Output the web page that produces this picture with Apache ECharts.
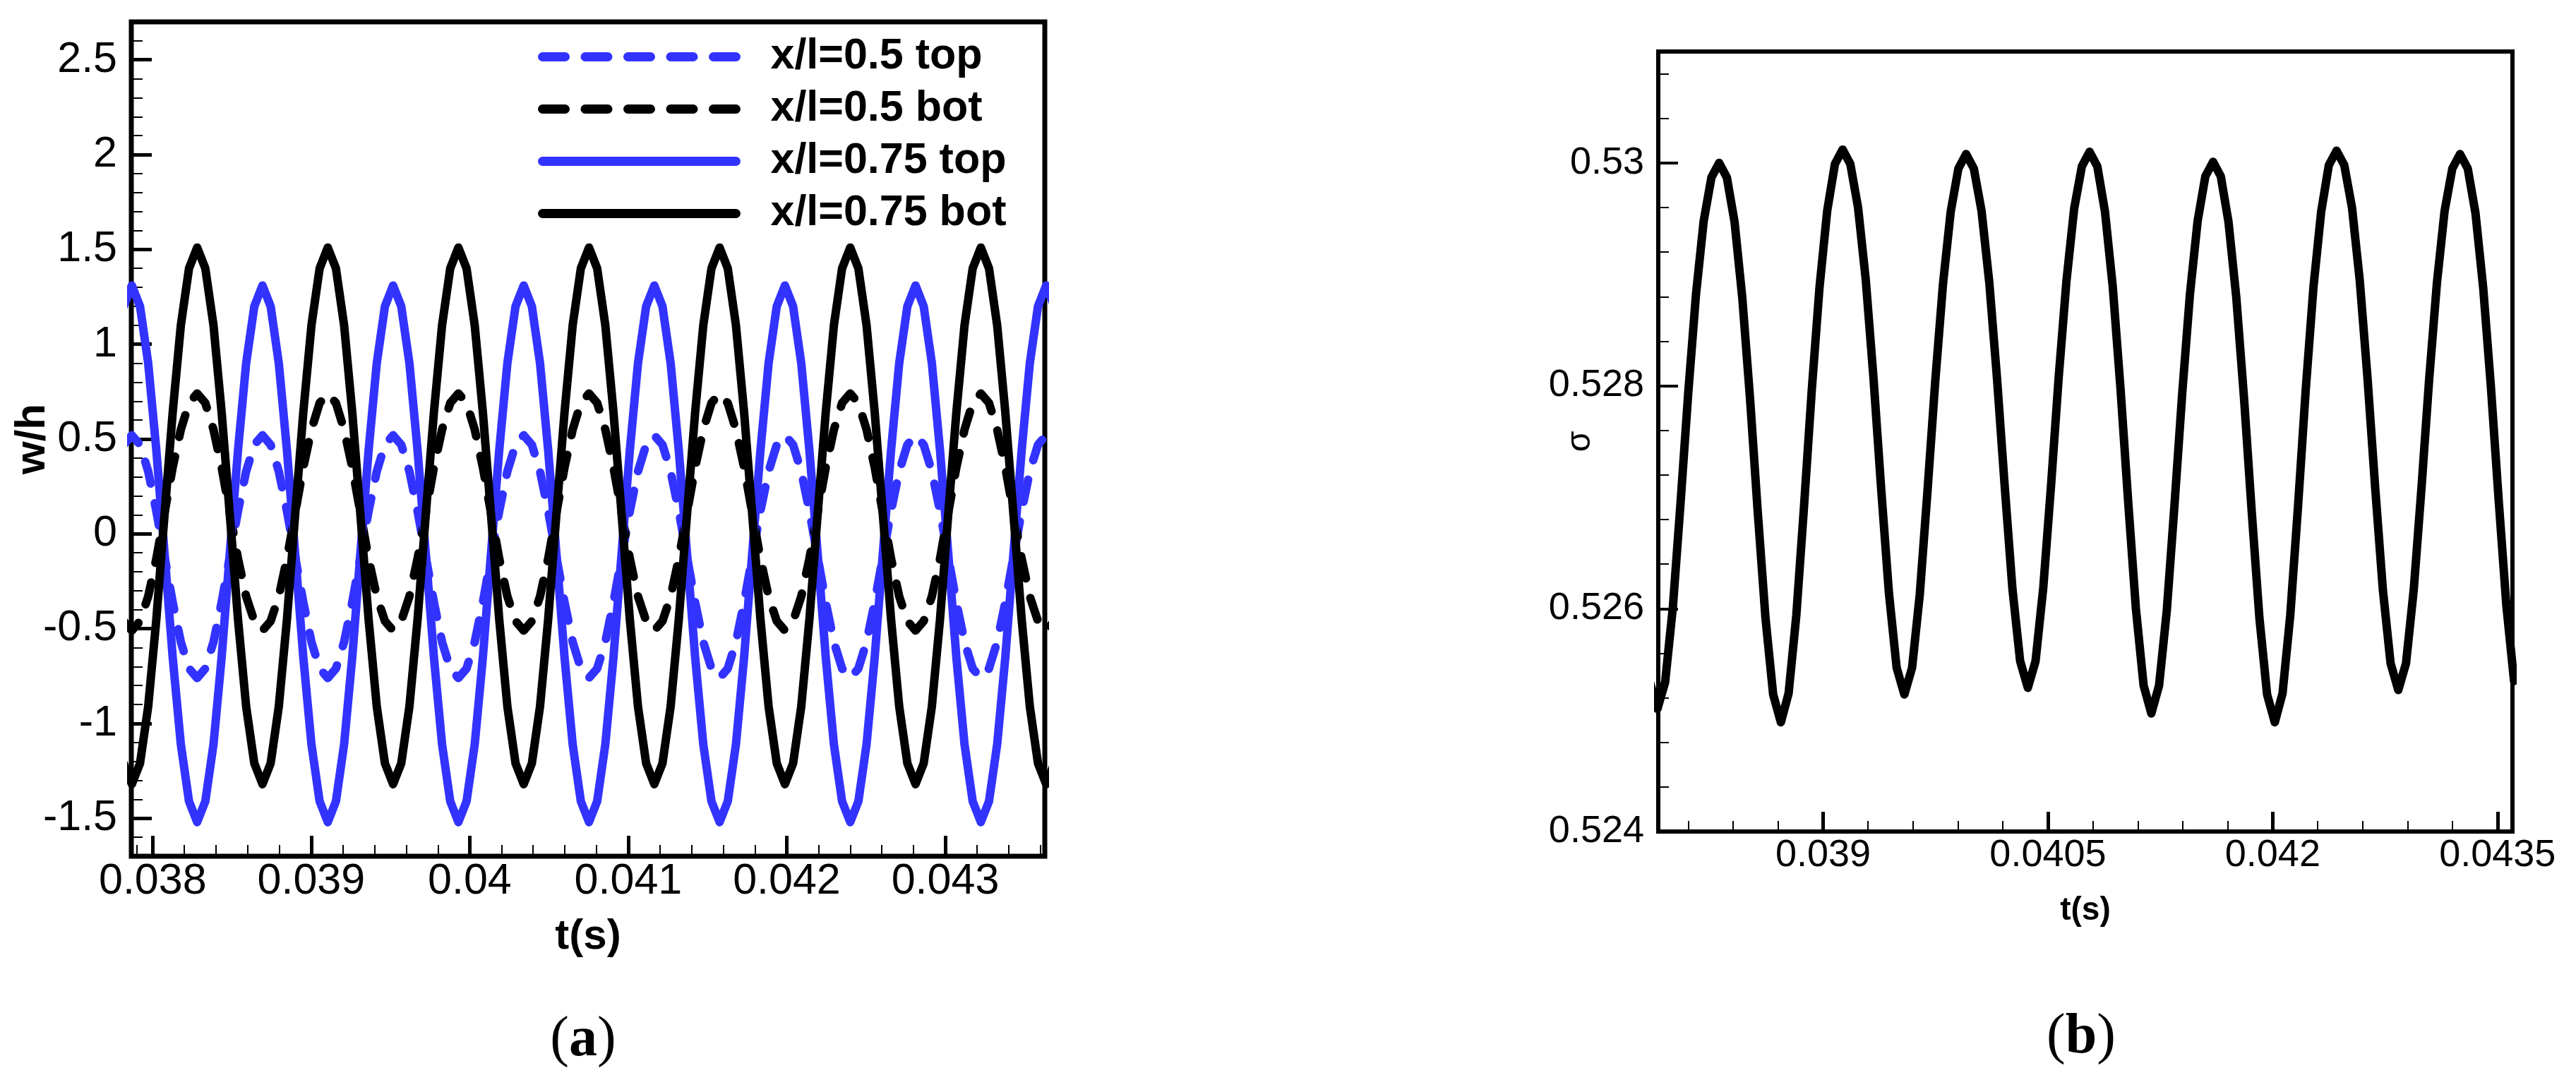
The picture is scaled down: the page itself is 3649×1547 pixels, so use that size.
<!DOCTYPE html>
<html>
<head>
<meta charset="utf-8">
<script src="https://cdn.jsdelivr.net/npm/echarts@6/dist/echarts.min.js"></script>
<style>
html,body{margin:0;padding:0;background:#fff;}
#c{width:3649px;height:1547px;}
</style>
</head>
<body>
<div id="c"></div>
<script>
// ---------------- Panel (a): w/h vs t ----------------
const timeA = [
0.0378170, 0.0378685, 0.0379200, 0.0379715, 0.0380230, 0.0380745, 0.0381260, 0.0381775, 0.0382290, 0.0382805,
0.0383320, 0.0383835, 0.0384350, 0.0384865, 0.0385380, 0.0385895, 0.0386410, 0.0386925, 0.0387440, 0.0387955,
0.0388470, 0.0388985, 0.0389500, 0.0390015, 0.0390530, 0.0391045, 0.0391560, 0.0392075, 0.0392590, 0.0393105,
0.0393620, 0.0394135, 0.0394650, 0.0395165, 0.0395680, 0.0396195, 0.0396710, 0.0397225, 0.0397740, 0.0398255,
0.0398770, 0.0399285, 0.0399800, 0.0400315, 0.0400830, 0.0401345, 0.0401860, 0.0402375, 0.0402890, 0.0403405,
0.0403920, 0.0404435, 0.0404950, 0.0405465, 0.0405980, 0.0406495, 0.0407010, 0.0407525, 0.0408040, 0.0408555,
0.0409070, 0.0409585, 0.0410100, 0.0410615, 0.0411130, 0.0411645, 0.0412160, 0.0412675, 0.0413190, 0.0413705,
0.0414220, 0.0414735, 0.0415250, 0.0415765, 0.0416280, 0.0416795, 0.0417310, 0.0417825, 0.0418340, 0.0418855,
0.0419370, 0.0419885, 0.0420400, 0.0420915, 0.0421430, 0.0421945, 0.0422460, 0.0422975, 0.0423490, 0.0424005,
0.0424520, 0.0425035, 0.0425550, 0.0426065, 0.0426580, 0.0427095, 0.0427610, 0.0428125, 0.0428640, 0.0429155,
0.0429670, 0.0430185, 0.0430700, 0.0431215, 0.0431730, 0.0432245, 0.0432760, 0.0433275, 0.0433790, 0.0434305,
0.0434820, 0.0435335, 0.0435850, 0.0436365, 0.0436880
];

// x/l=0.5 top (blue dashed)
const wTop05 = [
0.47,0.52,0.47,0.33,0.12,-0.12,-0.36,-0.57,-0.71,-0.76,-0.71,-0.57,-0.36,-0.12,0.12,0.33,
0.47,0.52,0.47,0.33,0.12,-0.12,-0.36,-0.57,-0.71,-0.76,-0.71,-0.57,-0.36,-0.12,0.12,0.33,
0.47,0.52,0.47,0.33,0.12,-0.12,-0.36,-0.57,-0.71,-0.76,-0.71,-0.57,-0.36,-0.12,0.12,0.33,
0.47,0.52,0.47,0.33,0.12,-0.12,-0.36,-0.57,-0.71,-0.76,-0.71,-0.57,-0.36,-0.12,0.12,0.33,
0.47,0.52,0.47,0.33,0.12,-0.12,-0.36,-0.57,-0.71,-0.76,-0.71,-0.57,-0.36,-0.12,0.12,0.33,
0.47,0.52,0.47,0.33,0.12,-0.12,-0.36,-0.57,-0.71,-0.76,-0.71,-0.57,-0.36,-0.12,0.12,0.33,
0.47,0.52,0.47,0.33,0.12,-0.12,-0.36,-0.57,-0.71,-0.76,-0.71,-0.57,-0.36,-0.12,0.12,0.33,
0.47,0.52,0.47
];
// x/l=0.5 bot (black dashed)
const wBot05 = [
-0.46,-0.51,-0.46,-0.33,-0.13,0.11,0.35,0.55,0.69,0.74,0.69,0.55,0.35,0.11,-0.13,-0.33,
-0.46,-0.51,-0.46,-0.33,-0.13,0.11,0.35,0.55,0.69,0.74,0.69,0.55,0.35,0.11,-0.13,-0.33,
-0.46,-0.51,-0.46,-0.33,-0.13,0.11,0.35,0.55,0.69,0.74,0.69,0.55,0.35,0.11,-0.13,-0.33,
-0.46,-0.51,-0.46,-0.33,-0.13,0.11,0.35,0.55,0.69,0.74,0.69,0.55,0.35,0.11,-0.13,-0.33,
-0.46,-0.51,-0.46,-0.33,-0.13,0.11,0.35,0.55,0.69,0.74,0.69,0.55,0.35,0.11,-0.13,-0.33,
-0.46,-0.51,-0.46,-0.33,-0.13,0.11,0.35,0.55,0.69,0.74,0.69,0.55,0.35,0.11,-0.13,-0.33,
-0.46,-0.51,-0.46,-0.33,-0.13,0.11,0.35,0.55,0.69,0.74,0.69,0.55,0.35,0.11,-0.13,-0.33,
-0.46,-0.51,-0.46
];
// x/l=0.75 top (blue solid)
const wTop075 = [
1.20,1.31,1.20,0.90,0.44,-0.10,-0.65,-1.11,-1.41,-1.52,-1.41,-1.11,-0.65,-0.10,0.44,0.90,
1.20,1.31,1.20,0.90,0.44,-0.10,-0.65,-1.11,-1.41,-1.52,-1.41,-1.11,-0.65,-0.10,0.44,0.90,
1.20,1.31,1.20,0.90,0.44,-0.10,-0.65,-1.11,-1.41,-1.52,-1.41,-1.11,-0.65,-0.10,0.44,0.90,
1.20,1.31,1.20,0.90,0.44,-0.10,-0.65,-1.11,-1.41,-1.52,-1.41,-1.11,-0.65,-0.10,0.44,0.90,
1.20,1.31,1.20,0.90,0.44,-0.10,-0.65,-1.11,-1.41,-1.52,-1.41,-1.11,-0.65,-0.10,0.44,0.90,
1.20,1.31,1.20,0.90,0.44,-0.10,-0.65,-1.11,-1.41,-1.52,-1.41,-1.11,-0.65,-0.10,0.44,0.90,
1.20,1.31,1.20,0.90,0.44,-0.10,-0.65,-1.11,-1.41,-1.52,-1.41,-1.11,-0.65,-0.10,0.44,0.90,
1.20,1.31,1.20
];
// x/l=0.75 bot (black solid)
const wBot075 = [
-1.21,-1.32,-1.21,-0.91,-0.45,0.10,0.64,1.10,1.40,1.51,1.40,1.10,0.64,0.10,-0.45,-0.91,
-1.21,-1.32,-1.21,-0.91,-0.45,0.10,0.64,1.10,1.40,1.51,1.40,1.10,0.64,0.10,-0.45,-0.91,
-1.21,-1.32,-1.21,-0.91,-0.45,0.10,0.64,1.10,1.40,1.51,1.40,1.10,0.64,0.10,-0.45,-0.91,
-1.21,-1.32,-1.21,-0.91,-0.45,0.10,0.64,1.10,1.40,1.51,1.40,1.10,0.64,0.10,-0.45,-0.91,
-1.21,-1.32,-1.21,-0.91,-0.45,0.10,0.64,1.10,1.40,1.51,1.40,1.10,0.64,0.10,-0.45,-0.91,
-1.21,-1.32,-1.21,-0.91,-0.45,0.10,0.64,1.10,1.40,1.51,1.40,1.10,0.64,0.10,-0.45,-0.91,
-1.21,-1.32,-1.21,-0.91,-0.45,0.10,0.64,1.10,1.40,1.51,1.40,1.10,0.64,0.10,-0.45,-0.91,
-1.21,-1.32,-1.21
];
const seriesNamesA = ['x/l=0.5 top', 'x/l=0.5 bot', 'x/l=0.75 top', 'x/l=0.75 bot'];

const xMajorA = [0.038, 0.039, 0.04, 0.041, 0.042, 0.043];
const xMinorA = [0.0379, 0.0382, 0.0384, 0.0386, 0.0388, 0.0392, 0.0394, 0.0396, 0.0398, 0.0402, 0.0404, 0.0406, 0.0408,
                 0.0412, 0.0414, 0.0416, 0.0418, 0.0422, 0.0424, 0.0426, 0.0428, 0.0432, 0.0434, 0.0436];
const yMajorA = [-1.5, -1, -0.5, 0, 0.5, 1, 1.5, 2, 2.5];
const yMinorA = [-1.6, -1.4, -1.3, -1.2, -1.1, -0.9, -0.8, -0.7, -0.6, -0.4, -0.3, -0.2, -0.1, 0.1, 0.2, 0.3, 0.4,
                 0.6, 0.7, 0.8, 0.9, 1.1, 1.2, 1.3, 1.4, 1.6, 1.7, 1.8, 1.9, 2.1, 2.2, 2.3, 2.4, 2.6];

// ---------------- Panel (b): sigma vs t ----------------
const timeB = [
0.0378427, 0.0378942, 0.0379457, 0.0379972, 0.0380487, 0.0381002, 0.0381517, 0.0382032, 0.0382547, 0.0383062,
0.0383577, 0.0384092, 0.0384607, 0.0385122, 0.0385637, 0.0386152, 0.0386667, 0.0387182, 0.0387697, 0.0388212,
0.0388727, 0.0389242, 0.0389757, 0.0390272, 0.0390787, 0.0391302, 0.0391817, 0.0392332, 0.0392847, 0.0393362,
0.0393877, 0.0394392, 0.0394907, 0.0395422, 0.0395937, 0.0396452, 0.0396967, 0.0397482, 0.0397997, 0.0398512,
0.0399027, 0.0399542, 0.0400057, 0.0400572, 0.0401087, 0.0401602, 0.0402117, 0.0402632, 0.0403147, 0.0403662,
0.0404177, 0.0404692, 0.0405207, 0.0405722, 0.0406237, 0.0406752, 0.0407267, 0.0407782, 0.0408297, 0.0408812,
0.0409327, 0.0409842, 0.0410357, 0.0410872, 0.0411387, 0.0411902, 0.0412417, 0.0412932, 0.0413447, 0.0413962,
0.0414477, 0.0414992, 0.0415507, 0.0416022, 0.0416537, 0.0417052, 0.0417567, 0.0418082, 0.0418597, 0.0419112,
0.0419627, 0.0420142, 0.0420657, 0.0421172, 0.0421687, 0.0422202, 0.0422717, 0.0423232, 0.0423747, 0.0424262,
0.0424777, 0.0425292, 0.0425807, 0.0426322, 0.0426837, 0.0427352, 0.0427867, 0.0428382, 0.0428897, 0.0429412,
0.0429927, 0.0430442, 0.0430957, 0.0431472, 0.0431987, 0.0432502, 0.0433017, 0.0433532, 0.0434047, 0.0434562,
0.0435077, 0.0435592, 0.0436107
];
const sigma = [
0.52535, 0.52510, 0.52534, 0.52601, 0.52695, 0.52794, 0.52882, 0.52948, 0.52987, 0.53000,
0.52987, 0.52947, 0.52879, 0.52789, 0.52687, 0.52592, 0.52523, 0.52498, 0.52524, 0.52594,
0.52692, 0.52796, 0.52888, 0.52957, 0.52999, 0.53012, 0.52999, 0.52960, 0.52895, 0.52807,
0.52707, 0.52614, 0.52547, 0.52523, 0.52547, 0.52613, 0.52706, 0.52804, 0.52891, 0.52956,
0.52995, 0.53008, 0.52995, 0.52957, 0.52893, 0.52807, 0.52710, 0.52618, 0.52553, 0.52529,
0.52553, 0.52619, 0.52710, 0.52808, 0.52894, 0.52959, 0.52997, 0.53010, 0.52997, 0.52956,
0.52889, 0.52798, 0.52696, 0.52600, 0.52531, 0.52506, 0.52531, 0.52598, 0.52693, 0.52793,
0.52882, 0.52948, 0.52988, 0.53001, 0.52988, 0.52947, 0.52880, 0.52790, 0.52688, 0.52592,
0.52523, 0.52498, 0.52524, 0.52594, 0.52691, 0.52796, 0.52888, 0.52956, 0.52998, 0.53011,
0.52998, 0.52960, 0.52895, 0.52808, 0.52709, 0.52617, 0.52551, 0.52527, 0.52551, 0.52617,
0.52708, 0.52806, 0.52892, 0.52957, 0.52995, 0.53008, 0.52995, 0.52955, 0.52888, 0.52799,
0.52698, 0.52603, 0.52535
];
const xMajorB = [0.039, 0.0405, 0.042, 0.0435];
const xMinorB = [0.0381, 0.0384, 0.0387, 0.0393, 0.0396, 0.0399, 0.0402, 0.0408, 0.0411, 0.0414, 0.0417,
                 0.0423, 0.0426, 0.0429, 0.0432];
const yMajorB = [0.524, 0.526, 0.528, 0.53];
const yMinorB = [0.5244, 0.5248, 0.5252, 0.5256, 0.5264, 0.5268, 0.5272, 0.5276, 0.5284, 0.5288, 0.5292, 0.5296,
                 0.5304, 0.5308];

// ---------------- build chart ----------------
const BLUE = '#3333ff';
const FONT = 'Liberation Sans';
const fmt = v => String(parseFloat(Number(v).toPrecision(8)));

function valAxis(o) {
  return {
    type: 'value', gridIndex: o.g, min: o.min, max: o.max, position: o.pos,
    axisLine: { show: false, onZero: false },
    splitLine: { show: false },
    minorTick: { show: false },
    axisTick: { show: true, inside: true, length: o.len, customValues: o.ticks,
                lineStyle: { color: '#000', width: o.tw } },
    axisLabel: o.fs ? { show: true, customValues: o.ticks, formatter: fmt, fontSize: o.fs,
                        fontFamily: FONT, color: '#000', margin: o.margin }
                    : { show: false },
    name: o.name || '',
    nameLocation: 'middle',
    nameGap: o.nameGap || 0,
    nameRotate: o.nameRotate,
    nameMoveOverlap: false,
    nameTextStyle: o.nameStyle || {}
  };
}

const gridA = { left: 186, top: 31, width: 1294, height: 1182 };
const gridB = { left: 2349, top: 73, width: 1210, height: 1105 };
const xRangeA = [0.037865, 0.043628], yRangeA = [-1.7, 2.7];
const xRangeB = [0.0379, 0.0436], yRangeB = [0.524, 0.531];

function zip(xs, ys) { return xs.map((x, i) => [x, ys[i]]); }

const dash = [32, 28.5];
const LWA = 12, LWB = 12;
const option = {
  animation: false,
  backgroundColor: '#ffffff',
  textStyle: { fontFamily: FONT, color: '#000' },
  grid: [
    Object.assign({ show: true, borderColor: '#000', borderWidth: 7, backgroundColor: 'transparent',
                    containLabel: false, outerBoundsMode: 'none' }, gridA),
    Object.assign({ show: false, containLabel: false, outerBoundsMode: 'none' }, gridA),
    Object.assign({ show: true, borderColor: '#000', borderWidth: 6, backgroundColor: 'transparent',
                    containLabel: false, outerBoundsMode: 'none' }, gridB),
    Object.assign({ show: false, containLabel: false, outerBoundsMode: 'none' }, gridB)
  ],
  xAxis: [
    valAxis({ g: 0, min: xRangeA[0], max: xRangeA[1], pos: 'bottom', len: 29, tw: 5, ticks: xMajorA,
              fs: 61, margin: 6, name: 't(s)', nameGap: 84,
              nameStyle: { fontFamily: FONT, fontWeight: 'bold', fontSize: 60, color: '#000' } }),
    valAxis({ g: 1, min: xRangeA[0], max: xRangeA[1], pos: 'bottom', len: 16, tw: 2, ticks: xMinorA }),
    valAxis({ g: 2, min: xRangeB[0], max: xRangeB[1], pos: 'bottom', len: 28, tw: 5, ticks: xMajorB,
              fs: 54, margin: 7, name: 't(s)', nameGap: 89,
              nameStyle: { fontFamily: FONT, fontWeight: 'bold', fontSize: 46, color: '#000' } }),
    valAxis({ g: 3, min: xRangeB[0], max: xRangeB[1], pos: 'bottom', len: 15, tw: 2, ticks: xMinorB })
  ],
  yAxis: [
    valAxis({ g: 0, min: yRangeA[0], max: yRangeA[1], pos: 'left', len: 29, tw: 5, ticks: yMajorA,
              fs: 61, margin: 20, name: 'w/h', nameGap: 110, nameRotate: 90,
              nameStyle: { fontFamily: FONT, fontWeight: 'bold', fontSize: 60, color: '#000' } }),
    valAxis({ g: 1, min: yRangeA[0], max: yRangeA[1], pos: 'left', len: 16, tw: 2, ticks: yMinorA }),
    valAxis({ g: 2, min: yRangeB[0], max: yRangeB[1], pos: 'left', len: 28, tw: 4, ticks: yMajorB,
              fs: 54, margin: 20, name: 'σ', nameGap: 86, nameRotate: 90,
              nameStyle: { fontFamily: FONT, fontWeight: 'normal', fontSize: 48, color: '#000' } }),
    valAxis({ g: 3, min: yRangeB[0], max: yRangeB[1], pos: 'left', len: 15, tw: 2, ticks: yMinorB })
  ],
  legend: {
    show: true, orient: 'vertical', left: 762, top: 46, padding: 0,
    itemWidth: 274, itemHeight: 13, itemGap: 5, selectedMode: false,
    itemStyle: { opacity: 0 },
    lineStyle: { width: 13, cap: 'round' },
    textStyle: { fontFamily: FONT, fontWeight: 'bold', fontSize: 61, lineHeight: 61, color: '#000',
                 padding: [0, 0, 8, 44] },
    data: seriesNamesA
  },
  series: [
    { name: seriesNamesA[0], type: 'line', xAxisIndex: 0, yAxisIndex: 0, symbol: 'none', showSymbol: false,
      data: zip(timeA, wTop05), color: BLUE,
      lineStyle: { color: BLUE, width: LWA, type: dash, cap: 'round', join: 'round' } },
    { name: seriesNamesA[1], type: 'line', xAxisIndex: 0, yAxisIndex: 0, symbol: 'none', showSymbol: false,
      data: zip(timeA, wBot05), color: '#000',
      lineStyle: { color: '#000', width: LWA, type: dash, cap: 'round', join: 'round' } },
    { name: seriesNamesA[2], type: 'line', xAxisIndex: 0, yAxisIndex: 0, symbol: 'none', showSymbol: false,
      data: zip(timeA, wTop075), color: BLUE,
      lineStyle: { color: BLUE, width: LWA, type: 'solid', cap: 'round', join: 'round' } },
    { name: seriesNamesA[3], type: 'line', xAxisIndex: 0, yAxisIndex: 0, symbol: 'none', showSymbol: false,
      data: zip(timeA, wBot075), color: '#000',
      lineStyle: { color: '#000', width: LWA, type: 'solid', cap: 'round', join: 'round' } },
    { name: 'sigma', type: 'line', xAxisIndex: 2, yAxisIndex: 2, symbol: 'none', showSymbol: false,
      data: zip(timeB, sigma), color: '#000',
      lineStyle: { color: '#000', width: LWB, type: 'solid', cap: 'round', join: 'round' } }
  ],
  graphic: [
    { type: 'text', x: 826, y: 1474, style: {
        text: '{p|(}{b|a}{p|)}', align: 'center', verticalAlign: 'middle',
        rich: { p: { fontFamily: 'Liberation Serif', fontSize: 80, fill: '#000', color: '#000' },
                b: { fontFamily: 'Liberation Serif', fontSize: 80, fontWeight: 'bold', fill: '#000', color: '#000' } } } },
    { type: 'text', x: 2948, y: 1470, style: {
        text: '{p|(}{b|b}{p|)}', align: 'center', verticalAlign: 'middle',
        rich: { p: { fontFamily: 'Liberation Serif', fontSize: 80, fill: '#000', color: '#000' },
                b: { fontFamily: 'Liberation Serif', fontSize: 80, fontWeight: 'bold', fill: '#000', color: '#000' } } } }
  ]
};

const chart = echarts.init(document.getElementById('c'), null, { renderer: 'canvas', width: 3649, height: 1547 });
chart.setOption(option);
</script>
</body>
</html>
